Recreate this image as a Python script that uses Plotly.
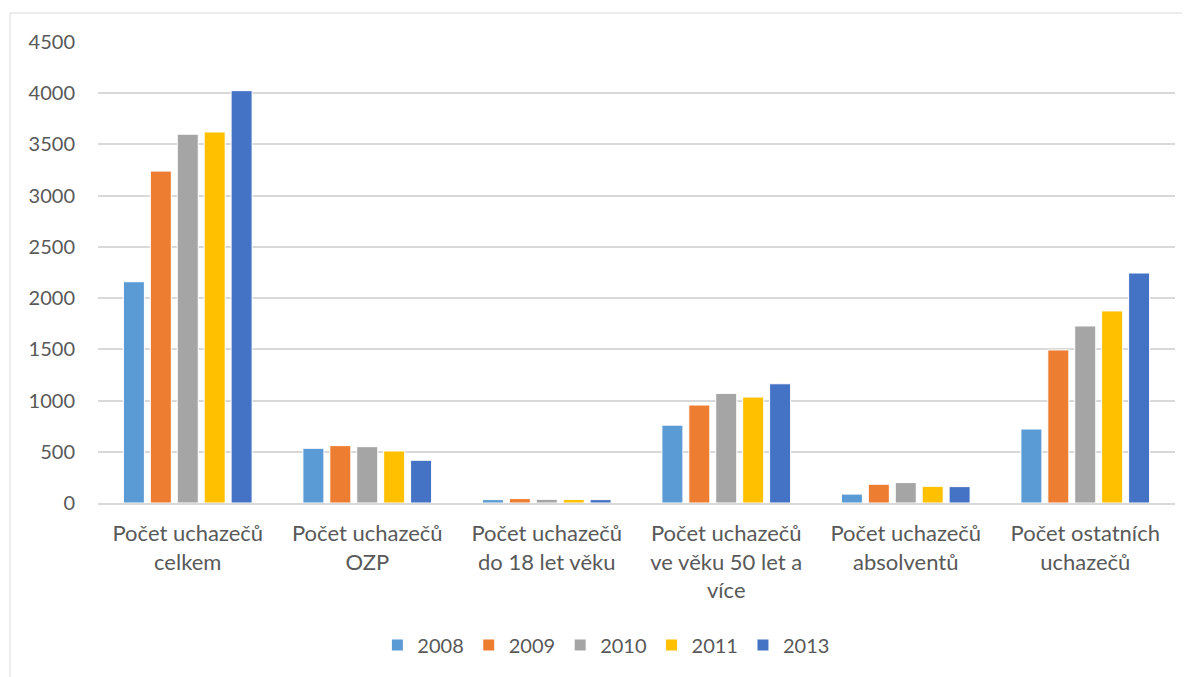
import plotly.graph_objects as go

categories = ["Počet uchazečů<br>celkem", "Počet uchazečů<br>OZP", "Počet uchazečů<br>do 18 let věku",
              "Počet uchazečů<br>ve věku 50 let a<br>více", "Počet uchazečů<br>absolventů", "Počet ostatních<br>uchazečů"]
years = ["2008", "2009", "2010", "2011", "2013"]
v2008 = [2160, 534, 33, 760, 87, 722]
v2009 = [3240, 560, 43, 956, 183, 1494]
v2010 = [3600, 550, 36, 1070, 199, 1728]
v2011 = [3622, 508, 34, 1034, 163, 1875]
v2013 = [4025, 417, 33, 1164, 160, 2245]
series = [v2008, v2009, v2010, v2011, v2013]
colors = ["#5B9BD5", "#ED7D31", "#A5A5A5", "#FFC000", "#4472C4"]
yticks = [0, 500, 1000, 1500, 2000, 2500, 3000, 3500, 4000, 4500]

font = "Lato, Open Sans, sans-serif"
fig = go.Figure()
for y, vals, c in zip(years, series, colors):
    fig.add_trace(go.Bar(name=y, x=categories, y=vals, marker=dict(color=c, line=dict(color="white", width=1))))

# page body has an 8px default margin, so the figure is offset by 8px
fig.update_layout(
    width=1182, height=669, barmode="group", bargap=0.25, bargroupgap=0.22,
    plot_bgcolor="white", paper_bgcolor="white",
    margin=dict(l=90, r=15, t=34, b=174, autoexpand=False),
    font=dict(family=font, size=20, color="#595959"),
    legend=dict(orientation="h", x=0.472, xanchor="center", y=-0.308, yanchor="middle",
                font=dict(size=20, color="#595959"), itemwidth=30, traceorder="normal"),
    showlegend=True,
)
fig.update_yaxes(range=[0, 4500], tickvals=yticks, showgrid=True, gridcolor="#D9D9D9", gridwidth=1.5,
                 zeroline=False, showline=False, ticks="", ticklabelstandoff=22, automargin=False,
                 tickfont=dict(size=20, color="#595959"))
fig.update_xaxes(showline=True, linecolor="#D9D9D9", linewidth=1.5, ticks="", automargin=False,
                 ticklabelstandoff=10, tickfont=dict(size=22, color="#595959"))
# chart border: only the left and top edges fall inside the picture
fig.add_shape(type="line", xref="paper", yref="paper", x0=-0.0817, x1=-0.0817, y0=-0.6, y1=1.063,
              line=dict(color="#D9D9D9", width=1), layer="below")
fig.add_shape(type="line", xref="paper", yref="paper", x0=-0.0817, x1=1.1, y0=1.063, y1=1.063,
              line=dict(color="#D9D9D9", width=1), layer="below")
fig.write_html("out.html")
